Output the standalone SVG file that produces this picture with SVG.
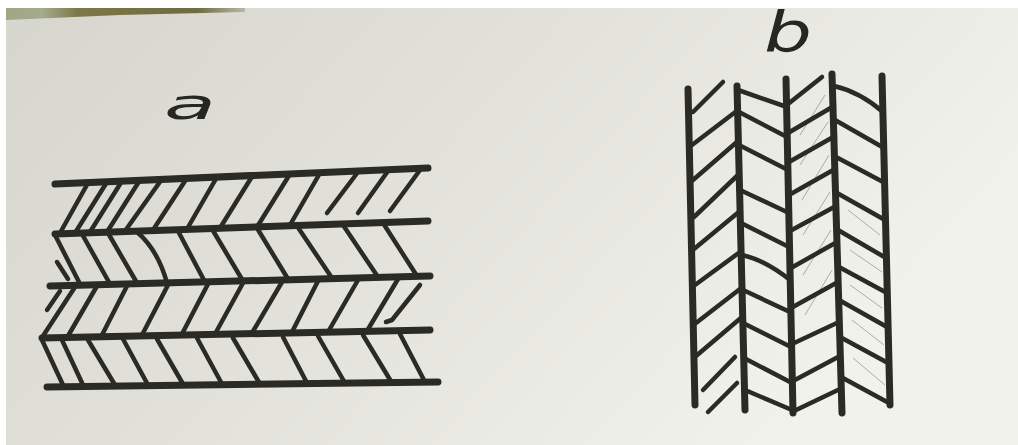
<svg xmlns="http://www.w3.org/2000/svg" width="1018" height="445" viewBox="0 0 1018 445">
<defs>
<linearGradient id="paper" x1="0" y1="0" x2="1" y2="0.4">
<stop offset="0" stop-color="#d6d6ce"/>
<stop offset="0.45" stop-color="#e1e1da"/>
<stop offset="1" stop-color="#f2f2ec"/>
</linearGradient>
<linearGradient id="strip" x1="0" y1="0" x2="1" y2="0">
<stop offset="0" stop-color="#9fa784"/>
<stop offset="0.15" stop-color="#a3ab8e"/>
<stop offset="0.3" stop-color="#7d7848"/>
<stop offset="0.8" stop-color="#6f6b40"/>
<stop offset="1" stop-color="#b9b8a4"/>
</linearGradient>
<style>
.main{stroke:#2b2b25;stroke-width:7;stroke-linecap:round;fill:none}
.h{stroke:#2b2b25;stroke-width:4.5;stroke-linecap:round;fill:none}
.p{stroke:#8e8e88;stroke-width:1;fill:none;opacity:0.7}
.lbl{font-family:"DejaVu Sans","Liberation Serif",sans-serif;font-style:italic;font-weight:200;fill:#262622}
</style>
</defs>
<rect width="1018" height="445" fill="#ffffff"/>
<rect x="6" y="8" width="1012" height="437" fill="url(#paper)"/>
<polygon points="6,8 245,8 245,12 120,15 6,20" fill="url(#strip)"/>

<g id="label-a"><text class="lbl" x="164" y="119" font-size="42" textLength="52" lengthAdjust="spacingAndGlyphs">a</text></g>
<g id="label-b"><text class="lbl" x="764" y="51" font-size="56" textLength="48" lengthAdjust="spacingAndGlyphs">b</text></g>

<g id="panel-a">
<g id="rails-a">
<line class="main" x1="55" y1="184" x2="428" y2="168"/>
<line class="main" x1="55" y1="234" x2="428" y2="221"/>
<line class="main" x1="50" y1="286" x2="430" y2="276"/>
<line class="main" x1="42" y1="338" x2="430" y2="330"/>
<line class="main" x1="47" y1="387" x2="438" y2="382"/>
</g>
<g id="hatch-a">
<line class="h" x1="60" y1="233" x2="88" y2="183"/>
<line class="h" x1="75" y1="233" x2="107" y2="182"/>
<line class="h" x1="90" y1="232" x2="122" y2="181"/>
<line class="h" x1="107" y1="232" x2="140" y2="180"/>
<line class="h" x1="125" y1="231" x2="162" y2="179"/>
<line class="h" x1="153" y1="230" x2="187" y2="178"/>
<line class="h" x1="187" y1="229" x2="217" y2="177"/>
<line class="h" x1="220" y1="228" x2="253" y2="175"/>
<line class="h" x1="257" y1="227" x2="290" y2="174"/>
<line class="h" x1="290" y1="225" x2="320" y2="173"/>
<line class="h" x1="327" y1="213" x2="358" y2="172"/>
<line class="h" x1="358" y1="213" x2="388" y2="171"/>
<line class="h" x1="390" y1="211" x2="420" y2="170"/>
<line class="h" x1="55" y1="235" x2="80" y2="284"/>
<line class="h" x1="82" y1="234" x2="110" y2="284"/>
<line class="h" x1="108" y1="233" x2="137" y2="283"/>
<path class="h" d="M137 232 Q158 250 167 283"/>
<line class="h" x1="178" y1="231" x2="205" y2="282"/>
<line class="h" x1="212" y1="229" x2="243" y2="281"/>
<line class="h" x1="257" y1="228" x2="288" y2="279"/>
<line class="h" x1="297" y1="226" x2="332" y2="278"/>
<line class="h" x1="343" y1="225" x2="378" y2="277"/>
<line class="h" x1="383" y1="223" x2="417" y2="276"/>
<line class="h" x1="57" y1="262" x2="68" y2="279"/>
<line class="h" x1="47" y1="310" x2="60" y2="291"/>
<line class="h" x1="43" y1="336" x2="75" y2="287"/>
<line class="h" x1="68" y1="336" x2="97" y2="286"/>
<line class="h" x1="102" y1="335" x2="127" y2="286"/>
<line class="h" x1="142" y1="335" x2="168" y2="285"/>
<line class="h" x1="182" y1="334" x2="208" y2="284"/>
<line class="h" x1="215" y1="334" x2="243" y2="283"/>
<line class="h" x1="252" y1="333" x2="282" y2="282"/>
<line class="h" x1="292" y1="332" x2="318" y2="281"/>
<line class="h" x1="328" y1="332" x2="358" y2="280"/>
<line class="h" x1="367" y1="331" x2="398" y2="279"/>
<path class="h" d="M386 322 L392 320 L420 285"/>
<line class="h" x1="42" y1="340" x2="63" y2="385"/>
<line class="h" x1="62" y1="340" x2="83" y2="385"/>
<line class="h" x1="88" y1="340" x2="115" y2="385"/>
<line class="h" x1="123" y1="339" x2="148" y2="385"/>
<line class="h" x1="157" y1="339" x2="183" y2="384"/>
<line class="h" x1="197" y1="338" x2="222" y2="384"/>
<line class="h" x1="233" y1="338" x2="260" y2="384"/>
<line class="h" x1="283" y1="337" x2="307" y2="383"/>
<line class="h" x1="318" y1="336" x2="345" y2="383"/>
<line class="h" x1="363" y1="335" x2="392" y2="383"/>
<line class="h" x1="400" y1="334" x2="425" y2="382"/>
</g>
</g>

<g id="panel-b">
<g id="rails-b">
<line class="main" x1="688" y1="89" x2="695" y2="405"/>
<line class="main" x1="737" y1="86" x2="745" y2="410"/>
<line class="main" x1="786" y1="79" x2="793" y2="413"/>
<line class="main" x1="832" y1="74" x2="842" y2="413"/>
<line class="main" x1="882" y1="76" x2="890" y2="405"/>
</g>
<g id="pencil-b">
<line class="p" x1="800" y1="135" x2="825" y2="95"/>
<line class="p" x1="800" y1="165" x2="828" y2="122"/>
<line class="p" x1="802" y1="200" x2="829" y2="155"/>
<line class="p" x1="803" y1="235" x2="830" y2="192"/>
<line class="p" x1="803" y1="275" x2="831" y2="230"/>
<line class="p" x1="805" y1="315" x2="832" y2="270"/>
<line class="p" x1="848" y1="210" x2="880" y2="235"/>
<line class="p" x1="850" y1="250" x2="882" y2="272"/>
<line class="p" x1="850" y1="285" x2="882" y2="308"/>
<line class="p" x1="852" y1="320" x2="884" y2="345"/>
<line class="p" x1="853" y1="358" x2="885" y2="385"/>
</g>
<g id="hatch-b">
<line class="h" x1="693" y1="112" x2="723" y2="82"/>
<line class="h" x1="692" y1="145" x2="738" y2="110"/>
<line class="h" x1="693" y1="180" x2="738" y2="141"/>
<line class="h" x1="694" y1="217" x2="739" y2="174"/>
<line class="h" x1="694" y1="249" x2="740" y2="211"/>
<line class="h" x1="695" y1="285" x2="740" y2="252"/>
<line class="h" x1="696" y1="323" x2="740" y2="289"/>
<line class="h" x1="696" y1="356" x2="742" y2="317"/>
<line class="h" x1="703" y1="390" x2="735" y2="357"/>
<line class="h" x1="708" y1="412" x2="737" y2="383"/>
<line class="h" x1="738" y1="90" x2="787" y2="107"/>
<line class="h" x1="739" y1="112" x2="787" y2="137"/>
<line class="h" x1="739" y1="145" x2="788" y2="170"/>
<line class="h" x1="740" y1="190" x2="789" y2="213"/>
<line class="h" x1="741" y1="223" x2="789" y2="247"/>
<path class="h" d="M742 255 Q765 260 790 280"/>
<line class="h" x1="743" y1="290" x2="790" y2="312"/>
<line class="h" x1="743" y1="323" x2="791" y2="347"/>
<line class="h" x1="744" y1="358" x2="792" y2="383"/>
<line class="h" x1="745" y1="390" x2="792" y2="410"/>
<line class="h" x1="788" y1="104" x2="822" y2="77"/>
<line class="h" x1="788" y1="133" x2="834" y2="106"/>
<line class="h" x1="789" y1="162" x2="835" y2="136"/>
<line class="h" x1="789" y1="195" x2="835" y2="169"/>
<line class="h" x1="790" y1="231" x2="836" y2="206"/>
<line class="h" x1="791" y1="268" x2="837" y2="242"/>
<line class="h" x1="791" y1="308" x2="838" y2="282"/>
<line class="h" x1="792" y1="344" x2="839" y2="322"/>
<line class="h" x1="793" y1="381" x2="840" y2="356"/>
<line class="h" x1="794" y1="411" x2="840" y2="389"/>
<path class="h" d="M834 86 Q860 92 883 112"/>
<line class="h" x1="835" y1="120" x2="884" y2="148"/>
<line class="h" x1="836" y1="157" x2="885" y2="183"/>
<line class="h" x1="837" y1="193" x2="885" y2="220"/>
<line class="h" x1="838" y1="230" x2="886" y2="258"/>
<line class="h" x1="839" y1="267" x2="887" y2="293"/>
<line class="h" x1="839" y1="300" x2="887" y2="327"/>
<line class="h" x1="840" y1="337" x2="888" y2="363"/>
<line class="h" x1="841" y1="377" x2="889" y2="403"/>
</g>
</g>
</svg>
